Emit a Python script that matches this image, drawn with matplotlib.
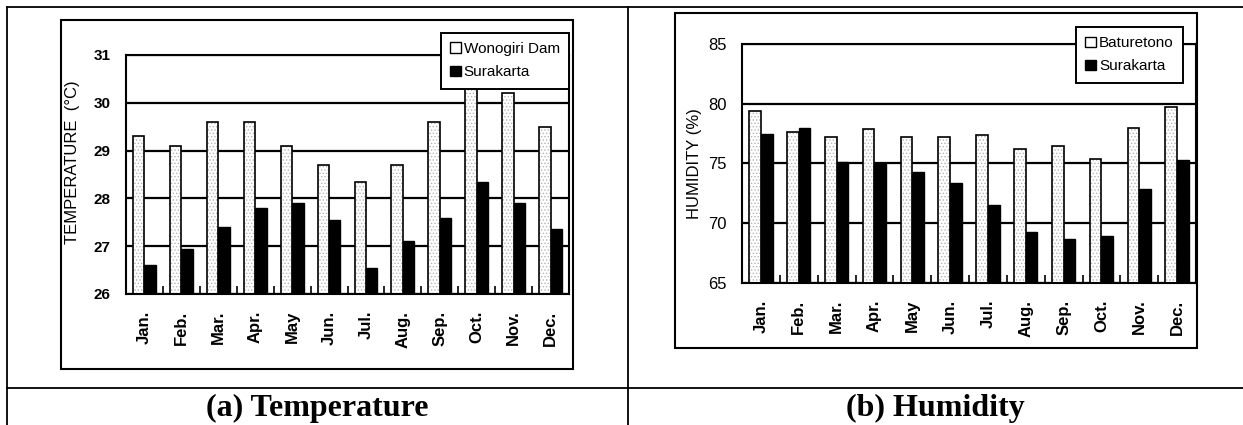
import matplotlib
matplotlib.use('Agg')
import matplotlib.pyplot as plt
import numpy as np
from matplotlib.patches import Rectangle, Patch
from matplotlib.lines import Line2D

months = ['Jan.', 'Feb.', 'Mar.', 'Apr.', 'May', 'Jun.', 'Jul.', 'Aug.', 'Sep.', 'Oct.', 'Nov.', 'Dec.']

# (a) temperature, deg C
temp_wonogiri = [29.3, 29.1, 29.6, 29.6, 29.1, 28.7, 28.35, 28.7, 29.6, 30.4, 30.2, 29.5]
temp_surakarta = [26.6, 26.95, 27.4, 27.8, 27.9, 27.55, 26.55, 27.1, 27.6, 28.35, 27.9, 27.35]
temp_ticks = [26, 27, 28, 29, 30, 31]

# (b) humidity, %
hum_baturetono = [79.4, 77.6, 77.2, 77.9, 77.2, 77.2, 77.4, 76.2, 76.5, 75.4, 78.0, 79.7]
hum_surakarta = [77.5, 78.0, 75.1, 75.0, 74.3, 73.4, 71.5, 69.3, 68.7, 68.9, 72.9, 75.3]
hum_ticks = [65, 70, 75, 80, 85]

W, H = 1243, 425
plt.rcParams['font.family'] = 'Liberation Sans'
plt.rcParams['hatch.color'] = '#b5b5b5'
plt.rcParams['hatch.linewidth'] = 0.6

fig = plt.figure(figsize=(W / 100, H / 100), dpi=100)


def fx(x):
    return x / W


def fy(y):
    return 1 - y / H


def box(x0, y0, x1, y1):
    return [fx(x0), fy(y1), fx(x1) - fx(x0), fy(y0) - fy(y1)]


def panel(px, white, black, ticks, names, ylabel, lab_x, lab_y, leg_anchor, tick_bold, tick_size):
    ax = fig.add_axes(box(*px))
    x = np.arange(len(months))
    bw = 0.31
    off = 0.155
    ax.bar(x - off, white, bw, color='white', hatch='.....', linewidth=0, zorder=2)
    ax.bar(x - off, white, bw, fill=False, edgecolor='black', linewidth=1.2, zorder=3)
    ax.bar(x + off, black, bw, color='black', edgecolor='black', linewidth=1, zorder=3)

    ax.set_xlim(-0.5, len(months) - 0.5)
    ax.set_ylim(ticks[0], ticks[-1])
    ax.set_yticks(ticks)
    ax.set_yticklabels([str(t) for t in ticks], fontsize=tick_size,
                       fontweight='bold' if tick_bold else 'normal')
    ax.set_xticks(x)
    ax.set_xticklabels(months, rotation=90, fontsize=12, fontweight='bold')
    ax.set_xticks(x[:-1] + 0.5, minor=True)
    ax.tick_params(axis='x', which='major', length=0, pad=12)
    ax.tick_params(axis='x', which='minor', direction='in', length=6, width=1.2)
    ax.tick_params(axis='y', length=0, pad=11)

    ax.yaxis.grid(True, color='black', linewidth=1.6)
    ax.set_axisbelow(True)
    for s in ax.spines.values():
        s.set_linewidth(1.5)

    ax.set_ylabel(ylabel, fontsize=12)
    ax.yaxis.set_label_coords(lab_x, lab_y)

    handles = [Patch(facecolor='white', edgecolor='black', linewidth=1),
               Patch(facecolor='black', edgecolor='black')]
    leg = ax.legend(handles, names, loc='upper right', bbox_to_anchor=leg_anchor,
                    borderaxespad=0, fontsize=11, handlelength=0.7, handleheight=0.7,
                    handletextpad=0.2, labelspacing=0.6, borderpad=0.6, fancybox=False,
                    framealpha=1, edgecolor='black')
    leg.get_frame().set_linewidth(1.4)
    leg.set_zorder(10)
    return ax


panel((126, 55, 569, 294), temp_wonogiri, temp_surakarta, temp_ticks,
      ['Wonogiri Dam', 'Surakarta'], 'TEMPERATURE  (\u00b0C)', -0.104, 0.55,
      (1.0, 1.092), True, 11)
panel((742, 44, 1196, 283), hum_baturetono, hum_surakarta, hum_ticks,
      ['Baturetono', 'Surakarta'], 'HUMIDITY (%)', -0.088, 0.5,
      (0.971, 1.071), False, 12)

# chart frames
for x0, y0, x1, y1 in [(61, 20, 573, 369), (675, 13, 1197, 348)]:
    fig.add_artist(Rectangle((fx(x0), fy(y1)), fx(x1) - fx(x0), fy(y0) - fy(y1),
                             fill=False, edgecolor='black', linewidth=1.5,
                             transform=fig.transFigure))

# table lines
table_lines = [((7, 1243), (7, 7)), ((7, 7), (7, 425)), ((628, 628), (7, 425)),
               ((7, 1243), (388, 388))]
for xs, ys in table_lines:
    fig.add_artist(Line2D([fx(v) for v in xs], [fy(v) for v in ys], color='black',
                          linewidth=1.3, transform=fig.transFigure))

fig.text(fx(317), fy(416), '(a) Temperature', ha='center', va='baseline',
         family='Liberation Serif', fontweight='bold', fontsize=23)
fig.text(fx(935), fy(416), '(b) Humidity', ha='center', va='baseline',
         family='Liberation Serif', fontweight='bold', fontsize=23)

fig.savefig('out.png', dpi=100)
